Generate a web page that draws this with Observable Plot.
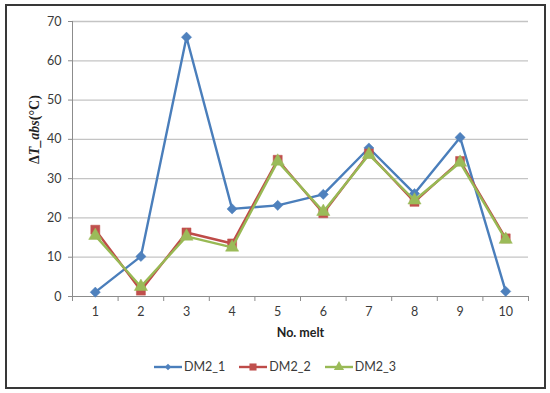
<!DOCTYPE html>
<html><head><meta charset="utf-8">
<script src="https://cdn.jsdelivr.net/npm/d3@7"></script>
<script src="https://cdn.jsdelivr.net/npm/@observablehq/plot@0.6"></script>
<style>
body{margin:0;background:#fff;}
#wrap{position:relative;width:550px;height:393px;overflow:hidden;background:#fff;font-family:Lato,sans-serif;}
#frame{position:absolute;left:5px;top:4px;width:541px;height:385px;border:2px solid #383838;box-sizing:border-box;pointer-events:none;}
#chart{position:absolute;left:0;top:0;}
#legend{position:absolute;top:359px;left:0;width:550px;display:flex;justify-content:center;align-items:center;gap:14px;font-size:12.5px;color:#3a3a3a;}
.item{display:flex;align-items:center;gap:2px;}
</style>
</head><body>
<div id="wrap"><div id="chart"></div><div id="legend"></div><div id="frame"></div></div>
<script>
const melts = [1,2,3,4,5,6,7,8,9,10];
const dm2_1 = [1.1,10.2,66,22.3,23.2,26.0,37.8,26.2,40.5,1.3];
const dm2_2 = [17.0,1.5,16.3,13.5,34.8,21.2,36.4,24.1,34.5,14.8];
const dm2_3 = [15.5,2.5,15.3,12.5,34.4,21.6,36.1,24.5,34.1,14.5];
const seriesNames = ["DM2_1","DM2_2","DM2_3"];
const yTicks = [0,10,20,30,40,50,60,70];
const xLabel = "No. melt";
const yLabel = "ΔT_abs(°C)";

const lineColors = ["#4A7EBB","#BE4B48","#98B954"];
const markColors = ["#4F81BD","#C0504D","#9BBB59"];
const symbols = ["diamond2","square","triangle"];
const radii = [4.6,5.1,4.9];

const seriesVals = [dm2_1, dm2_2, dm2_3];
const data = seriesVals.map((vals, s) => melts.map((m, i) => ({melt: m, value: vals[i], series: seriesNames[s]})));
const bounds = melts.map(m => m - 0.5).concat([melts[melts.length-1] + 0.5]);

const marks = [
  Plot.gridY(yTicks.filter(d => d > 0), {stroke: "#c4c4c4", strokeOpacity: 1, strokeWidth: 1.3}),
  Plot.axisY({ticks: yTicks, tickSize: 4, tickPadding: 7, fontSize: 12.5, color: "#3a3a3a", label: null, stroke: "#8c8c8c"}),
  Plot.axisX({ticks: melts, tickSize: 0, tickPadding: 11, fontSize: 12.5, color: "#3a3a3a", label: null, tickFormat: d => String(d)}),
  Plot.axisX({ticks: bounds, tickSize: 5, tickFormat: () => "", label: null, stroke: "#8c8c8c"}),
  Plot.ruleY([0], {stroke: "#8c8c8c"}),
  Plot.ruleX([bounds[0]], {stroke: "#8c8c8c"}),
  Plot.text([xLabel], {frameAnchor: "bottom", dy: 40, fontWeight: "bold", fontSize: 12.5, fill: "#222"}),
  Plot.text([yLabel], {frameAnchor: "left", dx: -38, dy: 5, rotate: -90, fontSize: 14, fontWeight: "bold", fill: "#222", fontFamily: "Liberation Serif", className: "ylab"})
];
data.forEach((d, s) => {
  marks.push(Plot.line(d, {x: "melt", y: "value", stroke: lineColors[s], strokeWidth: 2.4}));
  marks.push(Plot.dot(d, {x: "melt", y: "value", symbol: () => symbols[s], fill: markColors[s], stroke: markColors[s], strokeWidth: 0.5, r: radii[s]}));
});

const chart = Plot.plot({
  width: 550, height: 345,
  marginLeft: 72, marginRight: 22, marginTop: 21, marginBottom: 49,
  style: {fontFamily: "Lato, sans-serif", background: "transparent"},
  x: {domain: [bounds[0], bounds[bounds.length-1]], type: "linear"},
  y: {domain: [0, 70]},
  symbol: {type: "identity"},
  marks
});
document.getElementById("chart").appendChild(chart);

// styled y-label: italic T_abs
d3.select(chart).selectAll("g.ylab text, .ylab text").each(function() {
  const t = d3.select(this);
  t.text(null).attr("font-weight", "bold");
  t.append("tspan").text("Δ");
  t.append("tspan").attr("font-style", "italic").text("T_abs");
  t.append("tspan").text("(°C)");
});

// legend
const leg = d3.select("#legend");
seriesNames.forEach((name, s) => {
  const it = leg.append("div").attr("class", "item");
  const sv = it.append("svg").attr("width", 28).attr("height", 12);
  sv.append("line").attr("x1", 0).attr("x2", 28).attr("y1", 6).attr("y2", 6).attr("stroke", lineColors[s]).attr("stroke-width", 2.4);
  const sym = [d3.symbolDiamond2, d3.symbolSquare, d3.symbolTriangle][s];
  const size = [28, 50, 45][s];
  sv.append("path").attr("transform", "translate(14,6)").attr("d", d3.symbol(sym, size)()).attr("fill", markColors[s]);
  it.append("span").text(name);
});
</script>
</body></html>
